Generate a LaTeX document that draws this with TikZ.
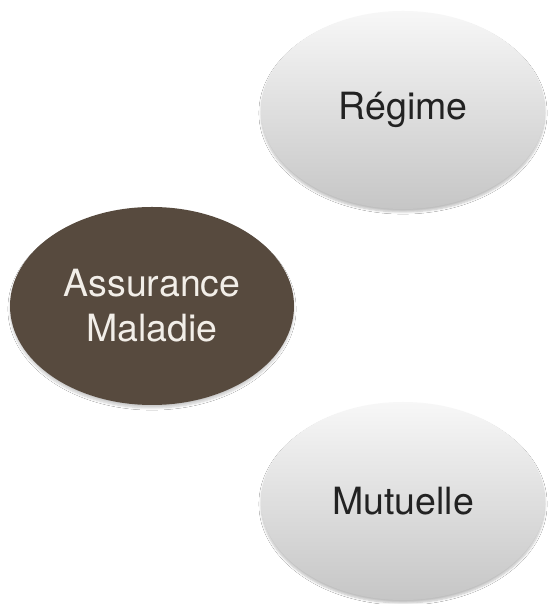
\documentclass[tikz,border=0pt]{standalone}
\usepackage{fontspec}
\setmainfont{TeX Gyre Heros}
\usetikzlibrary{shapes.geometric,shadows.blur}
\definecolor{brownfill}{HTML}{574A3E}
\definecolor{lighttext}{HTML}{F2EEE8}
\definecolor{darktext}{HTML}{222222}
\definecolor{topgray}{HTML}{F7F7F7}
\definecolor{botgray}{HTML}{C6C6C6}
\tikzset{
  bubble/.style={ellipse, minimum width=284pt, minimum height=198pt, inner sep=0pt,
    font=\fontsize{37.5}{45}\selectfont, align=center},
  graybubble/.style={bubble, top color=topgray, bottom color=botgray, text=darktext,
    blur shadow={shadow xshift=0pt, shadow yshift=-3pt, shadow blur steps=6, shadow opacity=25}},
  brownbubble/.style={bubble, fill=brownfill, text=lighttext,
    blur shadow={shadow xshift=0pt, shadow yshift=-3pt, shadow blur steps=6, shadow opacity=20}}
}
\begin{document}
\begin{tikzpicture}[x=1pt,y=1pt]
  \fill[white] (0,0) rectangle (548,604);
  \useasboundingbox (0,0) rectangle (548,604);
  \node[graybubble] (regime) at (403,494) {Régime};
  \node[brownbubble] (assurance) at (152,298) {Assurance\\Maladie};
  \node[graybubble] (mutuelle) at (403,103) {Mutuelle};
\end{tikzpicture}
\end{document}
